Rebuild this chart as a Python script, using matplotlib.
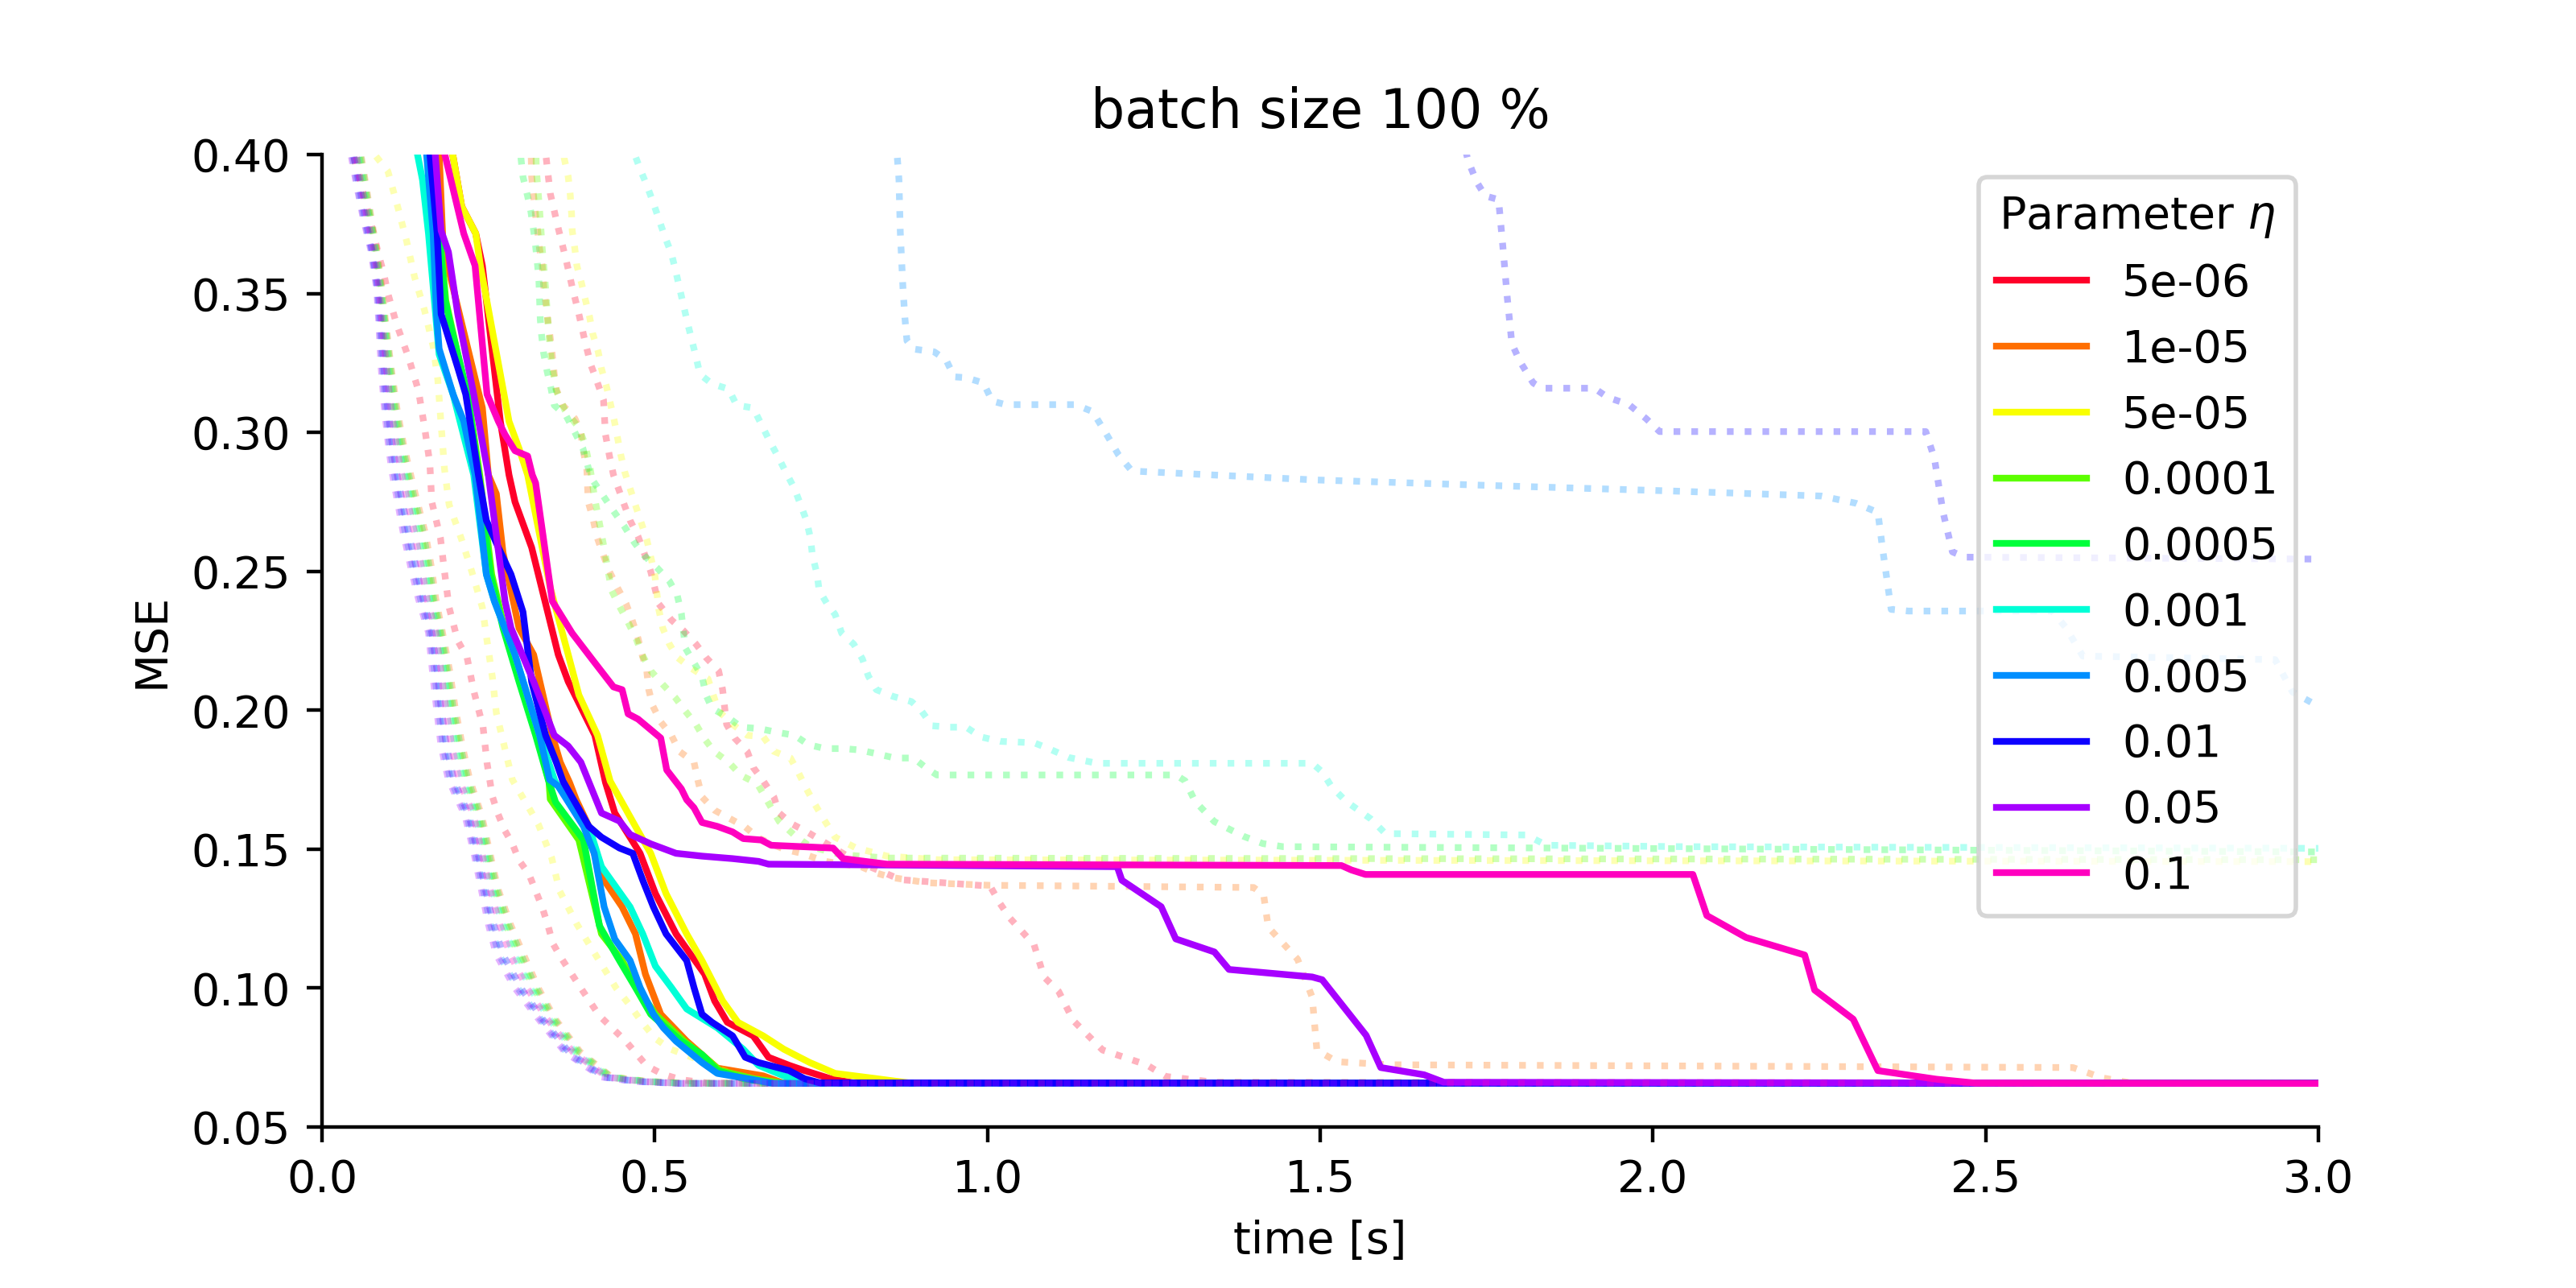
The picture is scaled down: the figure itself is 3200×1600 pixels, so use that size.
import numpy as np
import matplotlib
matplotlib.use("Agg")
import matplotlib.pyplot as plt

# ---------------- data ----------------
etas = ["5e-06", "1e-05", "5e-05", "0.0001", "0.0005", "0.001", "0.005", "0.01", "0.05", "0.1"]

# solid curves (time [s], MSE)
t_s0 = [0.185, 0.196, 0.210, 0.231, 0.241, 0.268, 0.281, 0.290, 0.315, 0.343, 0.355, 0.370, 0.410, 0.426, 0.440, 0.478, 0.501, 0.532, 0.575, 0.590, 0.609, 0.648, 0.671, 0.702, 0.725, 0.764, 0.802, 3.0]
m_s0 = [0.420, 0.4006, 0.3813, 0.3716, 0.3600, 0.3040, 0.2847, 0.2750, 0.2586, 0.2316, 0.2200, 0.2103, 0.1910, 0.1740, 0.1630, 0.1485, 0.1340, 0.1195, 0.1050, 0.0954, 0.0877, 0.0828, 0.0751, 0.0722, 0.0703, 0.0674, 0.0657, 0.0657]

t_s1 = [0.172, 0.176, 0.182, 0.231, 0.241, 0.250, 0.262, 0.272, 0.296, 0.318, 0.346, 0.358, 0.372, 0.382, 0.401, 0.409, 0.424, 0.451, 0.471, 0.486, 0.509, 0.548, 0.594, 0.663, 0.694, 3.0]
m_s1 = [0.420, 0.4006, 0.3668, 0.3185, 0.3088, 0.2847, 0.2779, 0.2567, 0.2296, 0.2200, 0.1910, 0.1813, 0.1740, 0.1678, 0.1582, 0.1485, 0.1388, 0.1292, 0.1195, 0.1050, 0.0906, 0.0809, 0.0712, 0.0684, 0.0657, 0.0657]

t_s2 = [0.185, 0.196, 0.210, 0.231, 0.238, 0.281, 0.296, 0.309, 0.343, 0.370, 0.386, 0.414, 0.433, 0.471, 0.494, 0.517, 0.548, 0.571, 0.602, 0.625, 0.663, 0.694, 0.733, 0.771, 0.833, 0.887, 3.0]
m_s2 = [0.420, 0.4006, 0.3813, 0.3716, 0.3600, 0.3040, 0.2943, 0.2847, 0.2441, 0.2200, 0.2055, 0.1910, 0.1745, 0.1582, 0.1485, 0.1340, 0.1195, 0.1099, 0.0954, 0.0877, 0.0828, 0.0780, 0.0732, 0.0693, 0.0674, 0.0657, 0.0657]

t_s3 = [0.158, 0.166, 0.186, 0.195, 0.222, 0.237, 0.255, 0.274, 0.298, 0.323, 0.341, 0.343, 0.386, 0.420, 0.451, 0.474, 0.501, 0.544, 0.575, 0.598, 0.648, 0.694, 3.0]
m_s3 = [0.420, 0.4006, 0.3475, 0.3378, 0.3088, 0.2847, 0.2489, 0.2296, 0.2103, 0.1910, 0.1745, 0.1680, 0.1533, 0.1195, 0.1099, 0.1002, 0.0906, 0.0809, 0.0751, 0.0703, 0.0674, 0.0657, 0.0657]

t_s4 = [0.158, 0.165, 0.185, 0.194, 0.219, 0.235, 0.253, 0.272, 0.296, 0.321, 0.340, 0.351, 0.378, 0.393, 0.417, 0.447, 0.471, 0.494, 0.540, 0.571, 0.594, 0.633, 0.679, 3.0]
m_s4 = [0.420, 0.4006, 0.3475, 0.3378, 0.3137, 0.2847, 0.2489, 0.2296, 0.2103, 0.1910, 0.1750, 0.1669, 0.1582, 0.1533, 0.1224, 0.1099, 0.1002, 0.0906, 0.0809, 0.0761, 0.0703, 0.0674, 0.0657, 0.0657]

t_s5 = [0.136, 0.143, 0.151, 0.160, 0.176, 0.197, 0.228, 0.247, 0.259, 0.290, 0.327, 0.350, 0.363, 0.401, 0.420, 0.463, 0.482, 0.501, 0.525, 0.548, 0.594, 0.633, 0.656, 0.694, 0.741, 3.0]
m_s5 = [0.420, 0.4006, 0.3909, 0.3716, 0.3281, 0.3137, 0.2847, 0.2489, 0.2393, 0.2200, 0.1910, 0.1745, 0.1698, 0.1582, 0.1437, 0.1292, 0.1195, 0.1079, 0.1002, 0.0925, 0.0857, 0.0780, 0.0722, 0.0684, 0.0657, 0.0657]

t_s6 = [0.150, 0.157, 0.167, 0.172, 0.176, 0.197, 0.213, 0.230, 0.247, 0.259, 0.290, 0.327, 0.342, 0.355, 0.393, 0.409, 0.424, 0.440, 0.463, 0.478, 0.498, 0.513, 0.532, 0.571, 0.594, 0.640, 0.679, 3.0]
m_s6 = [0.420, 0.4006, 0.3716, 0.3426, 0.3301, 0.3137, 0.3040, 0.2847, 0.2489, 0.2393, 0.2200, 0.1910, 0.1750, 0.1727, 0.1582, 0.1485, 0.1292, 0.1176, 0.1099, 0.1002, 0.0906, 0.0857, 0.0809, 0.0732, 0.0693, 0.0674, 0.0657, 0.0657]

t_s7 = [0.155, 0.162, 0.173, 0.179, 0.204, 0.216, 0.235, 0.247, 0.265, 0.284, 0.302, 0.315, 0.336, 0.352, 0.362, 0.401, 0.420, 0.447, 0.467, 0.482, 0.498, 0.517, 0.548, 0.559, 0.571, 0.586, 0.617, 0.636, 0.656, 0.702, 0.725, 0.748, 3.0]
m_s7 = [0.420, 0.4006, 0.3716, 0.3426, 0.3233, 0.3137, 0.2847, 0.2683, 0.2586, 0.2489, 0.2354, 0.2103, 0.1910, 0.1813, 0.1745, 0.1582, 0.1543, 0.1504, 0.1485, 0.1388, 0.1292, 0.1195, 0.1099, 0.1002, 0.0906, 0.0877, 0.0828, 0.0751, 0.0732, 0.0703, 0.0674, 0.0659, 0.0657]

t_s8 = [0.163, 0.170, 0.179, 0.190, 0.204, 0.228, 0.250, 0.259, 0.275, 0.284, 0.318, 0.349, 0.370, 0.389, 0.420, 0.447, 0.463, 0.494, 0.532, 0.571, 0.617, 0.656, 0.671, 1.195, 1.202, 1.261, 1.283, 1.341, 1.363, 1.488, 1.503, 1.569, 1.591, 1.656, 1.686, 3.0]
m_s8 = [0.420, 0.4006, 0.3726, 0.3649, 0.3426, 0.3137, 0.2847, 0.2683, 0.2393, 0.2296, 0.2103, 0.1910, 0.1871, 0.1813, 0.1630, 0.1601, 0.1553, 0.1519, 0.1485, 0.1475, 0.1466, 0.1456, 0.1446, 0.1437, 0.1388, 0.1293, 0.1177, 0.1130, 0.1067, 0.1040, 0.1030, 0.0830, 0.0714, 0.0688, 0.0661, 0.0657]

t_s9 = [0.177, 0.184, 0.213, 0.230, 0.248, 0.265, 0.275, 0.290, 0.309, 0.316, 0.321, 0.346, 0.376, 0.407, 0.438, 0.451, 0.460, 0.475, 0.509, 0.518, 0.540, 0.548, 0.559, 0.571, 0.594, 0.617, 0.633, 0.660, 0.675, 0.768, 0.783, 0.849, 1.532, 1.547, 1.568, 2.060, 2.081, 2.140, 2.228, 2.243, 2.301, 2.338, 2.426, 2.485, 3.0]
m_s9 = [0.420, 0.4006, 0.3716, 0.3600, 0.3137, 0.3040, 0.2992, 0.2934, 0.2915, 0.2847, 0.2818, 0.2393, 0.2277, 0.2180, 0.2084, 0.2074, 0.1987, 0.1968, 0.1900, 0.1785, 0.1717, 0.1678, 0.1649, 0.1596, 0.1582, 0.1562, 0.1538, 0.1533, 0.1514, 0.1504, 0.1466, 0.1446, 0.1441, 0.1425, 0.1409, 0.1409, 0.1261, 0.1182, 0.1119, 0.0993, 0.0888, 0.0703, 0.0672, 0.0658, 0.0657]

# dotted curves, fast group (shared MSE levels, per-colour time stamps)
m_fast = [0.45, 0.4006, 0.389, 0.377, 0.366, 0.352, 0.341, 0.323, 0.308, 0.295, 0.286, 0.277, 0.264, 0.252, 0.240, 0.228, 0.214, 0.201, 0.187, 0.175, 0.162, 0.149, 0.136, 0.123, 0.112, 0.100, 0.089, 0.077, 0.068, 0.0664, 0.0657, 0.0657]
t_f1 = [0.035, 0.058, 0.066, 0.074, 0.082, 0.090, 0.095, 0.104, 0.113, 0.123, 0.132, 0.141, 0.155, 0.164, 0.171, 0.181, 0.192, 0.200, 0.211, 0.222, 0.240, 0.252, 0.264, 0.283, 0.303, 0.325, 0.350, 0.388, 0.435, 0.490, 0.550, 3.0]
t_f3 = [0.032, 0.055, 0.063, 0.072, 0.080, 0.088, 0.093, 0.101, 0.109, 0.118, 0.127, 0.135, 0.148, 0.158, 0.166, 0.177, 0.187, 0.194, 0.205, 0.216, 0.235, 0.247, 0.259, 0.276, 0.295, 0.318, 0.345, 0.383, 0.432, 0.486, 0.546, 3.0]
t_f4 = [0.034, 0.057, 0.065, 0.073, 0.081, 0.089, 0.094, 0.103, 0.111, 0.121, 0.129, 0.138, 0.152, 0.161, 0.168, 0.179, 0.189, 0.197, 0.208, 0.219, 0.238, 0.250, 0.262, 0.280, 0.299, 0.322, 0.348, 0.386, 0.434, 0.488, 0.548, 3.0]
t_f5 = [0.030, 0.053, 0.061, 0.070, 0.079, 0.087, 0.092, 0.099, 0.106, 0.115, 0.123, 0.131, 0.143, 0.153, 0.162, 0.174, 0.183, 0.190, 0.200, 0.211, 0.231, 0.244, 0.255, 0.271, 0.289, 0.313, 0.341, 0.380, 0.430, 0.483, 0.543, 3.0]
t_f6 = [0.022, 0.045, 0.053, 0.063, 0.074, 0.083, 0.086, 0.091, 0.096, 0.102, 0.108, 0.115, 0.125, 0.136, 0.148, 0.162, 0.169, 0.175, 0.182, 0.193, 0.218, 0.230, 0.242, 0.253, 0.266, 0.294, 0.328, 0.367, 0.422, 0.472, 0.532, 3.0]
t_f7 = [0.024, 0.047, 0.056, 0.065, 0.075, 0.084, 0.088, 0.093, 0.099, 0.106, 0.112, 0.119, 0.130, 0.141, 0.152, 0.165, 0.173, 0.179, 0.187, 0.198, 0.221, 0.234, 0.245, 0.258, 0.272, 0.299, 0.331, 0.371, 0.424, 0.475, 0.535, 3.0]
t_f8 = [0.020, 0.043, 0.052, 0.062, 0.073, 0.082, 0.085, 0.089, 0.094, 0.100, 0.105, 0.112, 0.122, 0.133, 0.145, 0.160, 0.166, 0.172, 0.179, 0.190, 0.215, 0.228, 0.239, 0.250, 0.262, 0.290, 0.325, 0.365, 0.420, 0.470, 0.530, 3.0]
t_f9 = [0.028, 0.051, 0.059, 0.068, 0.078, 0.086, 0.090, 0.097, 0.104, 0.112, 0.119, 0.127, 0.139, 0.149, 0.158, 0.171, 0.179, 0.186, 0.195, 0.206, 0.228, 0.240, 0.252, 0.267, 0.283, 0.308, 0.338, 0.377, 0.428, 0.480, 0.540, 3.0]

t_f0 = [0.030, 0.046, 0.060, 0.075, 0.085, 0.093, 0.099, 0.112, 0.130, 0.145, 0.154, 0.162, 0.165, 0.178, 0.184, 0.191, 0.204, 0.218, 0.228, 0.242, 0.248, 0.256, 0.264, 0.274, 0.286, 0.296, 0.311, 0.321, 0.331, 0.339, 0.347, 0.359, 0.389, 0.417, 0.456, 0.488, 0.512, 0.540, 0.580, 3.0]
m_f0 = [0.45, 0.4006, 0.388, 0.374, 0.364, 0.357, 0.350, 0.339, 0.327, 0.315, 0.302, 0.289, 0.275, 0.262, 0.250, 0.237, 0.225, 0.219, 0.207, 0.194, 0.181, 0.169, 0.163, 0.157, 0.152, 0.146, 0.141, 0.135, 0.129, 0.123, 0.116, 0.111, 0.100, 0.090, 0.081, 0.072, 0.069, 0.067, 0.0658, 0.0657]

t_f2 = [0.060, 0.077, 0.099, 0.114, 0.127, 0.139, 0.154, 0.167, 0.174, 0.178, 0.184, 0.191, 0.209, 0.225, 0.241, 0.248, 0.256, 0.262, 0.274, 0.286, 0.313, 0.325, 0.345, 0.357, 0.383, 0.411, 0.442, 0.462, 0.480, 0.500, 0.524, 0.579, 0.617, 0.663, 0.720, 3.0]
m_f2 = [0.45, 0.4006, 0.394, 0.381, 0.369, 0.356, 0.344, 0.331, 0.319, 0.306, 0.287, 0.274, 0.262, 0.250, 0.237, 0.225, 0.212, 0.199, 0.187, 0.175, 0.164, 0.159, 0.147, 0.135, 0.123, 0.112, 0.100, 0.094, 0.088, 0.082, 0.078, 0.073, 0.069, 0.066, 0.0658, 0.0657]

# dotted curves, slow group
t_d0 = [0.330, 0.336, 0.343, 0.355, 0.367, 0.376, 0.386, 0.395, 0.404, 0.413, 0.423, 0.426, 0.432, 0.438, 0.454, 0.463, 0.475, 0.484, 0.494, 0.506, 0.525, 0.543, 0.562, 0.577, 0.596, 0.602, 0.608, 0.620, 0.639, 0.648, 0.663, 0.679, 0.687, 0.706, 0.729, 0.800, 0.870, 1.004, 1.019, 1.034, 1.070, 1.085, 1.107, 1.129, 1.151, 1.173, 1.239, 1.268, 1.341, 3.0]
m_d0 = [0.45, 0.4006, 0.386, 0.3735, 0.3619, 0.3523, 0.3426, 0.333, 0.3243, 0.3185, 0.3117, 0.2992, 0.2915, 0.2847, 0.2741, 0.2683, 0.2625, 0.2567, 0.2499, 0.2383, 0.2325, 0.2287, 0.2238, 0.219, 0.2142, 0.2074, 0.1949, 0.1900, 0.1852, 0.1794, 0.1746, 0.1688, 0.1630, 0.1591, 0.1562, 0.146, 0.139, 0.1367, 0.1304, 0.1251, 0.1156, 0.1040, 0.0988, 0.0883, 0.0830, 0.0777, 0.0724, 0.0682, 0.0661, 0.0658]

t_d1 = [0.310, 0.315, 0.318, 0.321, 0.324, 0.327, 0.331, 0.333, 0.336, 0.339, 0.343, 0.346, 0.349, 0.352, 0.361, 0.380, 0.389, 0.392, 0.398, 0.400, 0.407, 0.413, 0.423, 0.432, 0.444, 0.457, 0.466, 0.475, 0.481, 0.488, 0.491, 0.497, 0.509, 0.525, 0.537, 0.559, 0.565, 0.571, 0.590, 0.613, 0.636, 0.656, 0.694, 0.721, 0.756, 0.810, 0.829, 0.856, 0.910, 1.003, 1.400, 1.415, 1.422, 1.466, 1.488, 1.495, 1.525, 1.605, 2.631, 2.675, 2.720, 3.0]
m_d1 = [0.45, 0.392, 0.385, 0.378, 0.3726, 0.366, 0.360, 0.353, 0.347, 0.341, 0.334, 0.328, 0.321, 0.3156, 0.310, 0.305, 0.300, 0.2943, 0.2866, 0.2750, 0.2692, 0.2625, 0.2557, 0.2499, 0.2441, 0.2383, 0.2325, 0.2258, 0.2200, 0.2142, 0.2074, 0.2016, 0.1958, 0.1910, 0.1852, 0.1813, 0.1746, 0.1688, 0.164, 0.161, 0.158, 0.154, 0.150, 0.1485, 0.1456, 0.1437, 0.1417, 0.1398, 0.1379, 0.137, 0.1362, 0.1335, 0.1219, 0.1104, 0.0967, 0.0777, 0.0735, 0.0724, 0.0714, 0.0677, 0.0658, 0.0657]

t_d2 = [0.360, 0.364, 0.370, 0.373, 0.375, 0.376, 0.380, 0.383, 0.390, 0.396, 0.402, 0.407, 0.415, 0.420, 0.427, 0.433, 0.439, 0.444, 0.449, 0.455, 0.472, 0.488, 0.500, 0.506, 0.512, 0.522, 0.534, 0.555, 0.580, 0.596, 0.617, 0.639, 0.663, 0.679, 0.704, 0.716, 0.728, 0.741, 0.756, 0.771, 0.802, 0.849, 0.926, 3.0]
m_d2 = [0.45, 0.3986, 0.392, 0.3856, 0.3788, 0.3726, 0.366, 0.360, 0.3537, 0.3475, 0.3417, 0.3354, 0.3291, 0.3229, 0.3170, 0.3108, 0.3045, 0.2982, 0.2919, 0.2857, 0.2731, 0.2615, 0.2489, 0.2364, 0.2296, 0.2238, 0.2190, 0.2151, 0.2113, 0.1997, 0.1949, 0.1910, 0.1905, 0.1852, 0.1828, 0.1775, 0.1717, 0.166, 0.160, 0.1543, 0.1505, 0.1475, 0.1462, 0.1455]

t_d3 = [0.318, 0.322, 0.327, 0.331, 0.336, 0.340, 0.345, 0.352, 0.365, 0.385, 0.395, 0.403, 0.410, 0.418, 0.425, 0.435, 0.447, 0.460, 0.472, 0.481, 0.494, 0.512, 0.531, 0.546, 0.562, 0.574, 0.589, 0.611, 0.630, 0.654, 0.687, 0.710, 0.733, 0.780, 0.850, 3.0]
m_d3 = [0.45, 0.395, 0.380, 0.366, 0.352, 0.338, 0.325, 0.315, 0.308, 0.302, 0.296, 0.287, 0.276, 0.266, 0.257, 0.2432, 0.2374, 0.2316, 0.2258, 0.2200, 0.2142, 0.2093, 0.2045, 0.1997, 0.1949, 0.190, 0.1852, 0.1813, 0.1765, 0.1736, 0.160, 0.155, 0.151, 0.148, 0.1468, 0.1462]

t_d4 = [0.295, 0.299, 0.302, 0.309, 0.314, 0.318, 0.321, 0.324, 0.326, 0.327, 0.328, 0.330, 0.333, 0.338, 0.344, 0.349, 0.367, 0.380, 0.392, 0.401, 0.407, 0.423, 0.438, 0.454, 0.469, 0.484, 0.503, 0.522, 0.534, 0.540, 0.546, 0.559, 0.571, 0.577, 0.586, 0.611, 0.630, 0.657, 0.685, 0.710, 0.731, 0.756, 0.784, 0.808, 0.836, 0.861, 0.889, 0.907, 0.924, 1.283, 1.297, 1.312, 1.341, 1.385, 1.414, 1.444, 3.0]
m_d4 = [0.45, 0.3986, 0.392, 0.385, 0.3793, 0.3726, 0.367, 0.360, 0.3542, 0.3475, 0.3407, 0.3349, 0.3286, 0.3223, 0.316, 0.3098, 0.3059, 0.300, 0.2943, 0.2866, 0.2827, 0.2770, 0.2717, 0.2663, 0.2605, 0.2557, 0.2514, 0.2465, 0.2412, 0.2349, 0.2224, 0.2171, 0.2122, 0.2055, 0.2007, 0.1973, 0.1939, 0.1934, 0.1920, 0.191, 0.1876, 0.1862, 0.1862, 0.1857, 0.1842, 0.1828, 0.1828, 0.1794, 0.1767, 0.1767, 0.1746, 0.1672, 0.1599, 0.1546, 0.152, 0.1509, 0.1490]

t_d5 = [0.465, 0.469, 0.478, 0.488, 0.497, 0.506, 0.515, 0.525, 0.531, 0.537, 0.543, 0.549, 0.555, 0.562, 0.568, 0.586, 0.611, 0.623, 0.648, 0.660, 0.673, 0.685, 0.697, 0.710, 0.719, 0.728, 0.734, 0.737, 0.744, 0.747, 0.759, 0.771, 0.781, 0.799, 0.812, 0.821, 0.833, 0.858, 0.886, 0.901, 0.917, 0.944, 0.968, 0.990, 1.019, 1.070, 1.092, 1.122, 1.165, 1.488, 1.503, 1.517, 1.539, 1.576, 1.598, 1.810, 1.840, 2.045, 3.0]
m_d5 = [0.45, 0.4006, 0.3948, 0.3890, 0.3832, 0.3769, 0.3706, 0.3644, 0.3586, 0.3523, 0.3460, 0.3397, 0.3339, 0.3272, 0.3209, 0.3175, 0.3156, 0.3098, 0.3088, 0.3030, 0.2967, 0.2914, 0.2857, 0.2798, 0.2741, 0.2683, 0.2620, 0.2557, 0.2489, 0.2432, 0.2383, 0.2345, 0.2277, 0.2238, 0.2185, 0.2123, 0.2074, 0.2050, 0.2031, 0.1997, 0.1944, 0.1939, 0.1939, 0.1904, 0.1888, 0.1883, 0.1862, 0.1830, 0.1809, 0.1809, 0.1778, 0.1725, 0.1672, 0.1609, 0.1556, 0.1551, 0.1514, 0.1509, 0.1503]

t_d6 = [0.862, 0.864, 0.867, 0.869, 0.873, 0.876, 0.879, 0.889, 0.920, 0.938, 0.950, 0.968, 0.994, 1.007, 1.027, 1.132, 1.158, 1.178, 1.197, 1.217, 1.492, 1.755, 2.017, 2.253, 2.305, 2.338, 2.345, 2.358, 2.384, 2.600, 2.620, 2.646, 2.935, 2.961, 3.0]
m_d6 = [0.45, 0.4006, 0.391, 0.372, 0.352, 0.341, 0.333, 0.330, 0.329, 0.326, 0.320, 0.3197, 0.3178, 0.3113, 0.3100, 0.3100, 0.3075, 0.2997, 0.2919, 0.2861, 0.2829, 0.2809, 0.2790, 0.2771, 0.2745, 0.2712, 0.2583, 0.2363, 0.2357, 0.2357, 0.2299, 0.2195, 0.2182, 0.2066, 0.2014]

t_d7 = [1.700, 1.722, 1.735, 1.748, 1.768, 1.774, 1.781, 1.788, 1.800, 1.820, 1.833, 1.912, 1.932, 1.964, 1.990, 2.010, 2.410, 2.423, 2.436, 2.450, 2.469, 3.0]
m_d7 = [0.42, 0.3980, 0.3902, 0.3851, 0.3838, 0.3682, 0.3488, 0.3320, 0.3256, 0.3178, 0.3159, 0.3159, 0.3126, 0.3100, 0.3049, 0.3003, 0.3003, 0.2906, 0.2712, 0.2570, 0.2551, 0.2544]

solid = [(t_s0, m_s0), (t_s1, m_s1), (t_s2, m_s2), (t_s3, m_s3), (t_s4, m_s4),
         (t_s5, m_s5), (t_s6, m_s6), (t_s7, m_s7), (t_s8, m_s8), (t_s9, m_s9)]
dotted = {
    0: [(t_f0, m_f0), (t_d0, m_d0)],
    1: [(t_f1, m_fast), (t_d1, m_d1)],
    2: [(t_f2, m_f2), (t_d2, m_d2)],
    3: [(t_f3, m_fast), (t_d3, m_d3)],
    4: [(t_f4, m_fast), (t_d4, m_d4)],
    5: [(t_f5, m_fast), (t_d5, m_d5)],
    6: [(t_f6, m_fast), (t_d6, m_d6)],
    7: [(t_f7, m_fast), (t_d7, m_d7)],
    8: [(t_f8, m_fast)],
    9: [(t_f9, m_fast)],
}

# ---------------- plot ----------------
colors = plt.cm.gist_rainbow(np.linspace(0, 1, len(etas)))

fig = plt.figure(figsize=(8, 4), dpi=400)
ax = fig.add_subplot(111)
fig.subplots_adjust(left=0.125, right=0.9, top=0.88, bottom=0.125)

for i, lab in enumerate(etas):
    t, m = solid[i]
    ax.plot(t, m, color=colors[i], lw=1.5, label=lab)
    for (td, md) in dotted[i]:
        ax.plot(td, md, color=colors[i], lw=1.5, ls=':', alpha=0.3)

ax.set_xlim(0, 3)
ax.set_ylim(0.05, 0.40)
ax.set_xticks([0.0, 0.5, 1.0, 1.5, 2.0, 2.5, 3.0])
ax.set_yticks([0.05, 0.10, 0.15, 0.20, 0.25, 0.30, 0.35, 0.40])
ax.set_yticklabels(["0.05", "0.10", "0.15", "0.20", "0.25", "0.30", "0.35", "0.40"])
ax.spines["top"].set_visible(False)
ax.spines["right"].set_visible(False)
ax.set_xlabel("time [s]")
ax.set_ylabel("MSE")
ax.set_title("batch size 100 %")
ax.legend(title=r"Parameter $\eta$", loc="upper right")

fig.savefig("out.png", dpi=400)
